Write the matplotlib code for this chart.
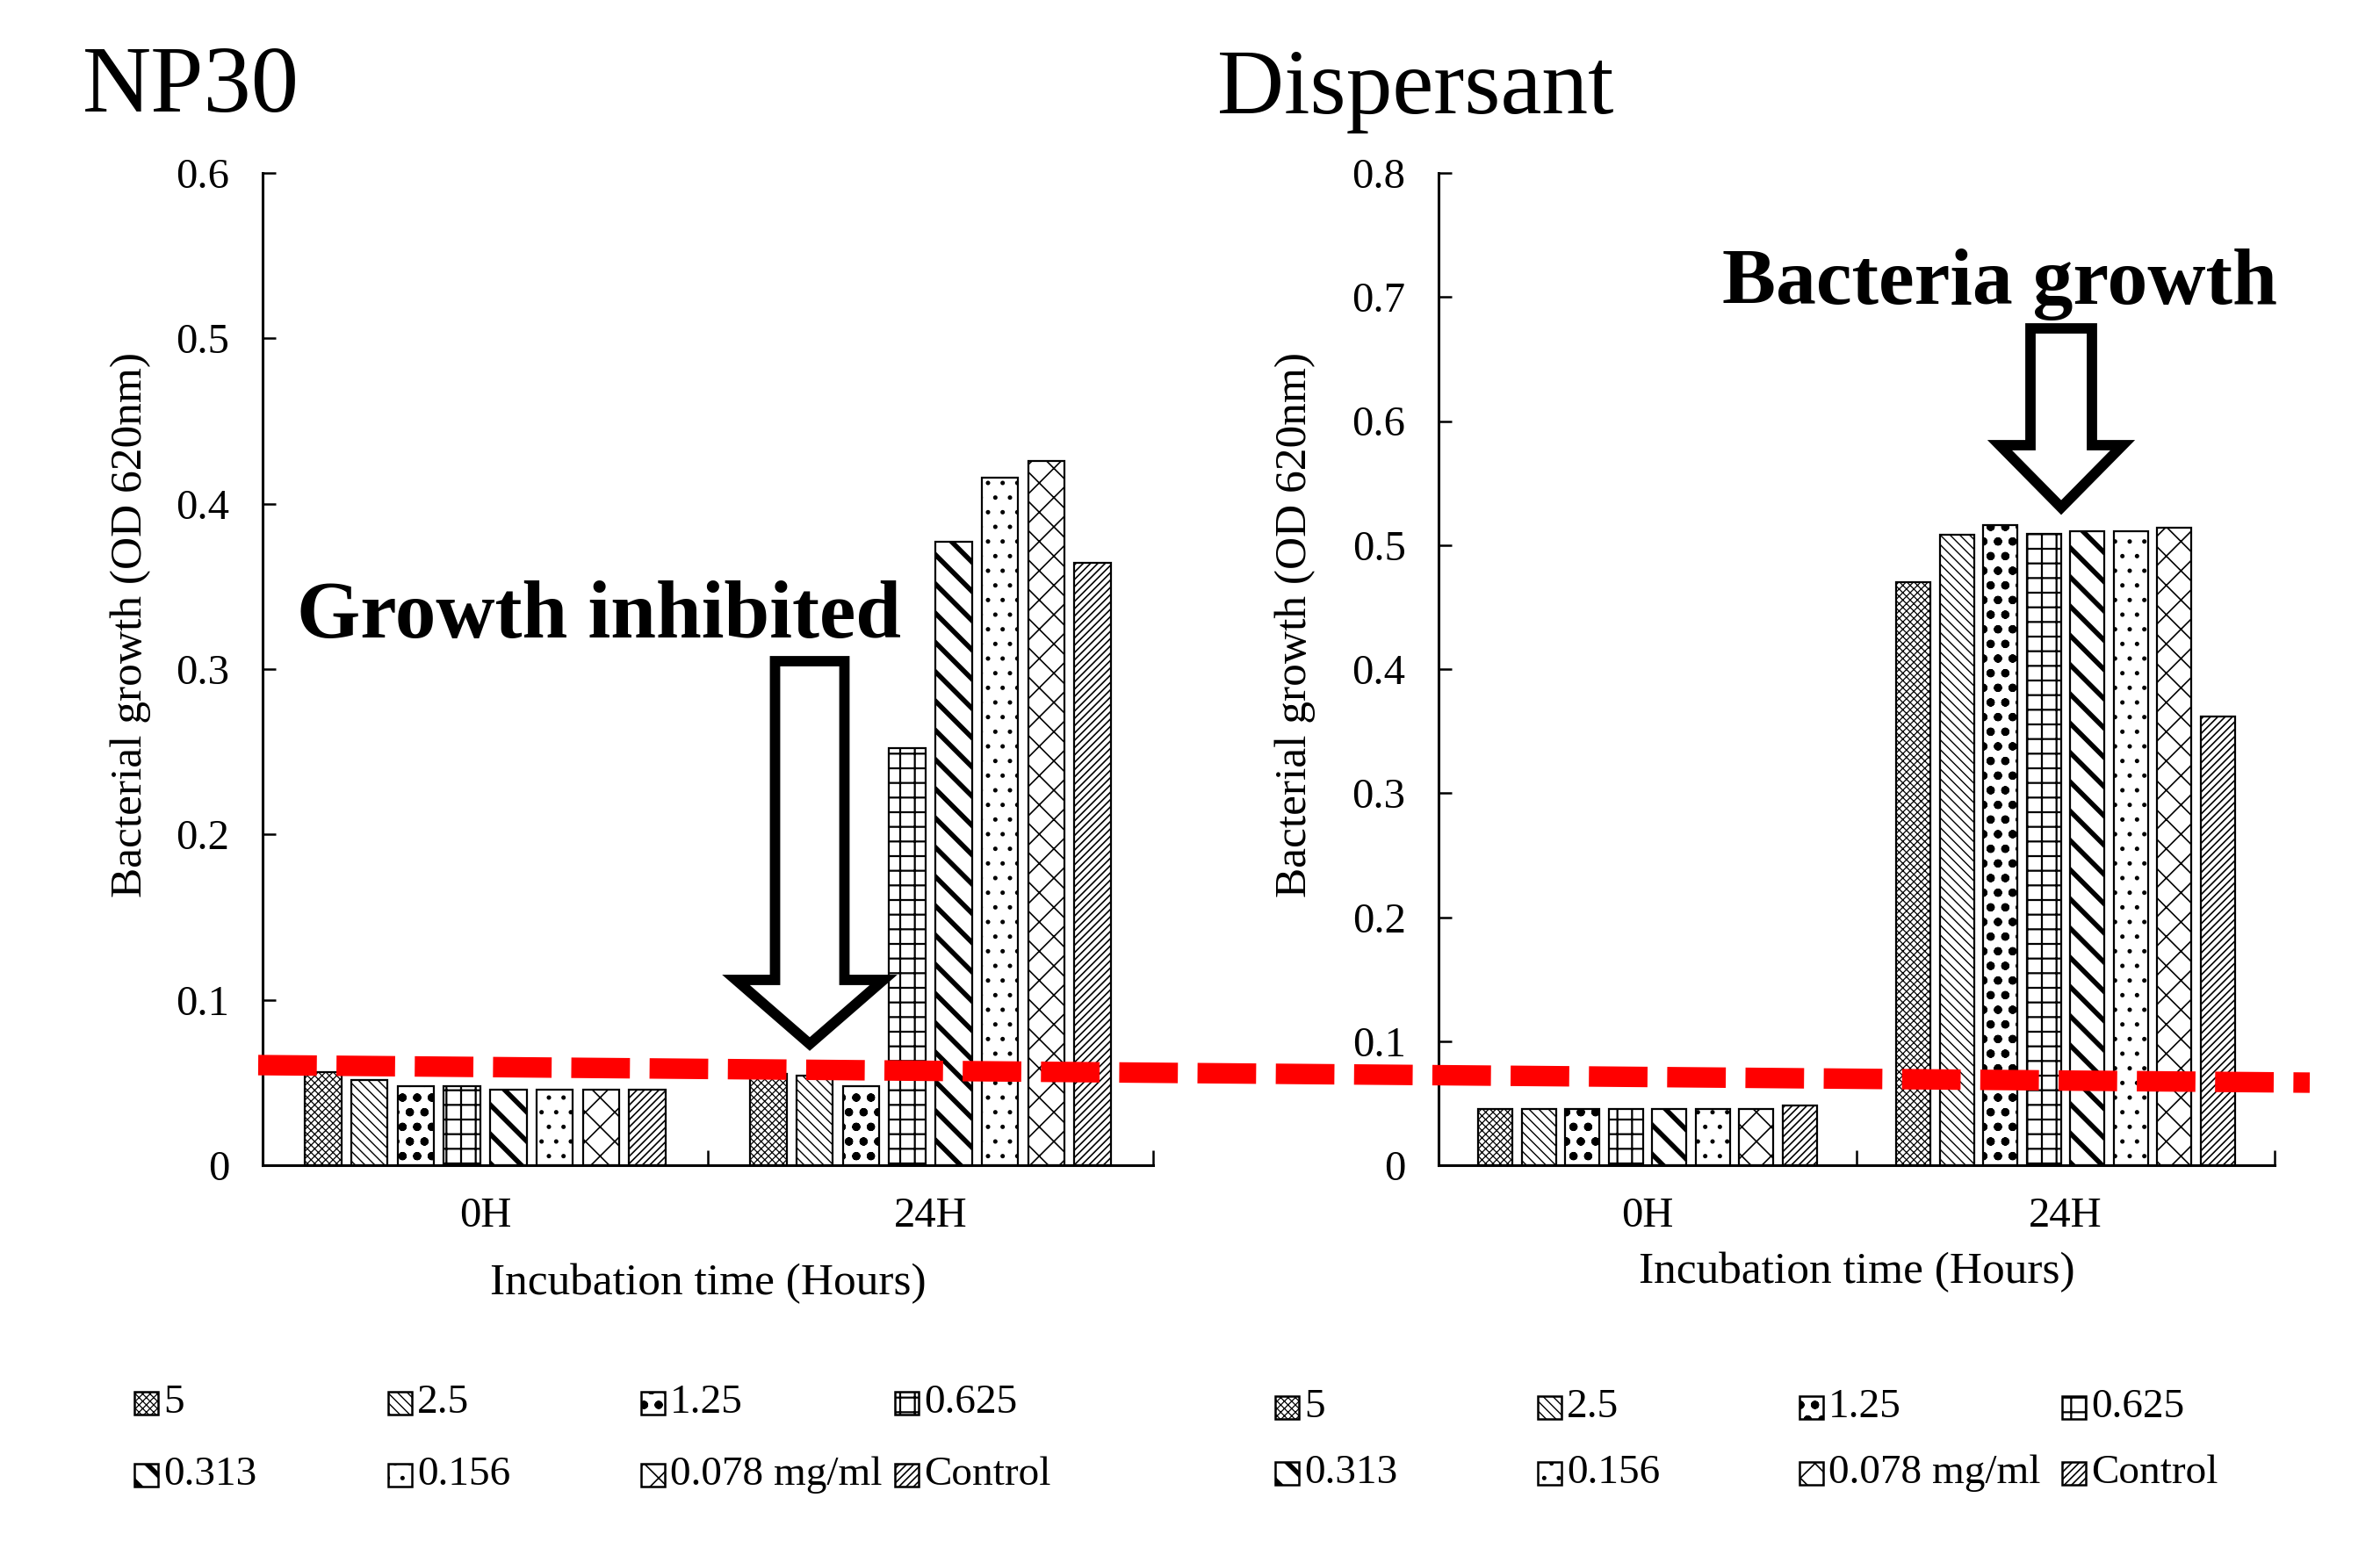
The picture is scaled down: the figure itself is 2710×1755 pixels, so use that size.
import numpy as np
import matplotlib
matplotlib.use("Agg")
import matplotlib.pyplot as plt
from matplotlib.lines import Line2D
from matplotlib.patches import Polygon, Rectangle

plt.rcParams['font.family'] = ['Liberation Serif', 'DejaVu Serif']

# ---- data ----
times = ["0H", "24H"]
concentrations = ["5", "2.5", "1.25", "0.625", "0.313", "0.156", "0.078 mg/ml", "Control"]

np30_0h = [0.0565, 0.0515, 0.0476, 0.0476, 0.0458, 0.0458, 0.0458, 0.0458]
np30_24h = [0.055, 0.054, 0.048, 0.252, 0.377, 0.416, 0.426, 0.364]

disp_0h = [0.045, 0.045, 0.045, 0.045, 0.045, 0.045, 0.045, 0.048]
disp_24h = [0.470, 0.508, 0.516, 0.509, 0.511, 0.511, 0.514, 0.362]

# ---- style ----
hatches = ["xxxx", "\\\\\\", "o.", "+", "\\", ".", "x", "////"]
hatch_lw = [0.9, 1.0, 2.0, 1.6, 4.0, 1.2, 1.2, 1.2]

W, H = 2710, 1755
SLOT, BAR_W = 0.104, 0.082
TICK_FS, LABEL_FS = 35, 37


def fx(px):
    return px / W


def fy(py):
    return 1 - py / H


def draw_panel(ax, vals_0h, vals_24h, ymax, ylab_x, xlab_y):
    x = np.arange(len(times))
    for i, lab in enumerate(concentrations):
        off = (i - 3.5) * SLOT
        with plt.rc_context({'hatch.linewidth': hatch_lw[i]}):
            bars = ax.bar(x + off, [vals_0h[i], vals_24h[i]], width=BAR_W,
                          facecolor='white', edgecolor='black', linewidth=1.6,
                          hatch=hatches[i], zorder=2)
        for b in bars:
            if hasattr(b, 'set_hatch_linewidth'):
                b.set_hatch_linewidth(hatch_lw[i])

    ax.set_xlim(-0.5, 1.5)
    ax.set_ylim(0, ymax)
    ax.set_xticks(x)
    ax.set_xticklabels(times)
    ax.set_xticks([0.5, 1.5], minor=True)
    ax.tick_params(axis='x', which='major', length=0, pad=26, labelsize=TICK_FS)
    ax.tick_params(axis='x', which='minor', direction='in', length=12, width=1.8)

    yt = np.round(np.arange(0, ymax + 1e-9, 0.1), 1)
    ax.set_yticks(yt)
    ax.set_yticklabels(["0" if v == 0 else f"{v:.1f}" for v in yt])
    ax.tick_params(axis='y', direction='in', length=11, width=1.8, pad=27,
                   labelsize=TICK_FS)

    for s in ("top", "right"):
        ax.spines[s].set_visible(False)
    for s in ("left", "bottom"):
        ax.spines[s].set_linewidth(2.2)

    ax.set_ylabel("Bacterial growth (OD 620nm)", fontsize=LABEL_FS)
    ax.yaxis.set_label_coords(ylab_x, 0.545)
    ax.yaxis.label.set_va('center')
    ax.set_xlabel("Incubation time (Hours)", fontsize=LABEL_FS)
    ax.xaxis.set_label_coords(0.5, xlab_y)
    ax.xaxis.label.set_va('center')


def draw_legend(fig, cols, rows):
    for i, lab in enumerate(concentrations):
        cx = cols[i % 4]
        cy = rows[i // 4]
        with plt.rc_context({'hatch.linewidth': hatch_lw[i]}):
            r = Rectangle((fx(cx), fy(cy + 13)), 27 / W, 26 / H,
                          transform=fig.transFigure, facecolor='white',
                          edgecolor='black', linewidth=1.8, hatch=hatches[i])
        if hasattr(r, 'set_hatch_linewidth'):
            r.set_hatch_linewidth(hatch_lw[i])
        fig.add_artist(r)
        fig.text(fx(cx + 33), fy(cy), lab, ha='left', va='center', fontsize=34)


def block_arrow(fig, c, shaft, head, top, base, tip, lw):
    pts = [(c - shaft, top), (c + shaft, top), (c + shaft, base), (c + head, base),
           (c, tip), (c - head, base), (c - shaft, base)]
    poly = Polygon([(fx(px), fy(py)) for px, py in pts], closed=True,
                   transform=fig.transFigure, facecolor='white', edgecolor='black',
                   linewidth=lw, joinstyle='miter', zorder=5)
    fig.add_artist(poly)


fig = plt.figure(figsize=(W / 100, H / 100), dpi=100)

ax1 = fig.add_axes([fx(299), fy(1327), (1313 - 299) / W, (1327 - 197) / H])
ax2 = fig.add_axes([fx(1638), fy(1327), (2590 - 1638) / W, (1327 - 197) / H])

draw_panel(ax1, np30_0h, np30_24h, 0.6, -0.148, -0.119)
draw_panel(ax2, disp_0h, disp_24h, 0.8, -0.172, -0.108)

fig.text(fx(94), fy(127), "NP30", fontsize=78, ha='left', va='baseline')
fig.text(fx(1386), fy(129), "Dispersant", fontsize=76, ha='left', va='baseline')

fig.text(fx(338), fy(726), "Growth inhibited", fontsize=67, fontweight='bold',
         ha='left', va='baseline')
fig.text(fx(1961), fy(346), "Bacteria growth", fontsize=66, fontweight='bold',
         ha='left', va='baseline')

block_arrow(fig, 922, 39.5, 84, 753, 1116, 1189, 8.5)
block_arrow(fig, 2347, 35, 70, 374, 507, 578, 8.5)

# red threshold line across both panels
fig.add_artist(Line2D([fx(294), fx(2630)], [fy(1213), fy(1233)],
                      transform=fig.transFigure, color='#ff0000', linewidth=16.8,
                      dashes=(2.86, 0.96), dash_capstyle='butt', zorder=10))

draw_legend(fig, [153, 442, 730, 1019], [1598, 1680])
draw_legend(fig, [1452, 1751, 2049, 2348], [1603, 1678])

fig.savefig("out.png", dpi=100)
